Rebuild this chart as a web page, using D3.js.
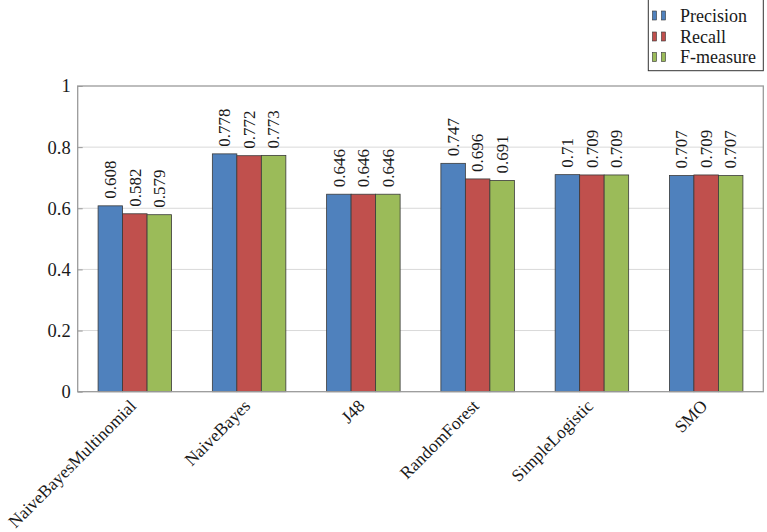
<!DOCTYPE html>
<html>
<head>
<meta charset="utf-8">
<script src="https://cdn.jsdelivr.net/npm/d3@7"></script>
<style>
  html, body { margin: 0; padding: 0; background: #fff; }
  svg { display: block; }
  svg text { font-family: "Liberation Serif", "DejaVu Serif", serif !important; fill: #1a1a1a; }
</style>
</head>
<body>
<svg id="chart" width="767" height="532"></svg>
<script>
const categories = ["NaiveBayesMultinomial", "NaiveBayes", "J48", "RandomForest", "SimpleLogistic", "SMO"];
const seriesNames = ["Precision", "Recall", "F-measure"];
const precision = [0.608, 0.778, 0.646, 0.747, 0.71, 0.707];
const recall    = [0.582, 0.772, 0.646, 0.696, 0.709, 0.709];
const fmeasure  = [0.579, 0.773, 0.646, 0.691, 0.709, 0.707];
const yTicks = [0, 0.2, 0.4, 0.6, 0.8, 1];
const colors = ["#4f81bd", "#c0504d", "#9bbb59"];

const FONT = '"Liberation Serif", "DejaVu Serif", serif';
const series = [precision, recall, fmeasure];
const svg = d3.select("#chart");
const m = { left: 77.7, right: 763.3, top: 86, bottom: 391.7 };

const x = d3.scaleBand().domain(categories).range([m.left, m.right]).paddingInner(0).paddingOuter(0);
const barW = 24.5;
const y = d3.scaleLinear().domain([0, 1]).range([m.bottom, m.top]);

// gridlines
svg.append("g").selectAll("line").data(yTicks.filter(t => t > 0 && t < 1)).join("line")
  .attr("x1", m.left).attr("x2", m.right)
  .attr("y1", d => y(d)).attr("y2", d => y(d))
  .attr("stroke", "#d9d9d9").attr("stroke-width", 1);

// bars
const groups = svg.append("g").selectAll("g").data(categories).join("g");
series.forEach((vals, si) => {
  groups.append("rect")
    .attr("x", (d, i) => x(d) + x.bandwidth() / 2 + (si - 1.5) * barW)
    .attr("y", (d, i) => y(vals[i]))
    .attr("width", barW)
    .attr("height", (d, i) => y(0) - y(vals[i]))
    .attr("fill", colors[si])
    .attr("stroke", "#3a3a3a").attr("stroke-width", 0.8);
  groups.append("text")
    .attr("transform", (d, i) => {
      const cx = x(d) + x.bandwidth() / 2 + (si - 1) * barW;
      return `translate(${cx + 5.8},${y(vals[i]) - 7}) rotate(-90)`;
    })
    .attr("text-anchor", "start")
    .style("font-family", FONT)
    .style("font-size", "17px")
    .text((d, i) => String(vals[i]));
});

// frame
svg.append("rect").attr("x", m.left).attr("y", m.top)
  .attr("width", m.right - m.left).attr("height", m.bottom - m.top)
  .attr("fill", "none").attr("stroke", "#9a9a9a").attr("stroke-width", 1.3);

// y axis
const yAxis = d3.axisLeft(y).tickValues(yTicks).tickFormat(d => String(d)).tickSize(-5).tickPadding(7);
const ya = svg.append("g").attr("transform", `translate(${m.left},0)`).call(yAxis);
ya.attr("font-family", null).attr("font-size", null);
ya.select(".domain").remove();
ya.selectAll(".tick line").attr("stroke", "#9a9a9a");
ya.selectAll(".tick text").style("font-size", "18.5px").style("font-family", FONT);

// x axis labels
const xAxis = d3.axisBottom(x).tickSize(0).tickPadding(0);
const xa = svg.append("g").attr("transform", `translate(0,${m.bottom})`).call(xAxis);
xa.attr("font-family", null).attr("font-size", null);
xa.select(".domain").remove();
xa.selectAll(".tick text")
  .style("font-size", "17.5px").style("font-family", FONT)
  .attr("text-anchor", "end")
  .attr("y", 0).attr("dy", "0.35em")
  .attr("transform", "translate(-2,11) rotate(-45)");

// legend
const lg = svg.append("g");
lg.append("rect").attr("x", 648.3).attr("y", -1).attr("width", 115).attr("height", 71.7)
  .attr("fill", "#fff").attr("stroke", "#333").attr("stroke-width", 1);
const rowY = [15.5, 36.5, 57];
seriesNames.forEach((name, i) => {
  [652.5, 661.5].forEach(bx => {
    lg.append("rect").attr("x", bx).attr("y", rowY[i] - 4.5).attr("width", 4).attr("height", 9)
      .attr("fill", colors[i]).attr("stroke", "#333").attr("stroke-width", 0.6);
  });
  lg.append("text").attr("x", 680).attr("y", rowY[i]).attr("dy", "0.35em")
    .style("font-family", FONT).style("font-size", "18px").text(name);
});
</script>
</body>
</html>
